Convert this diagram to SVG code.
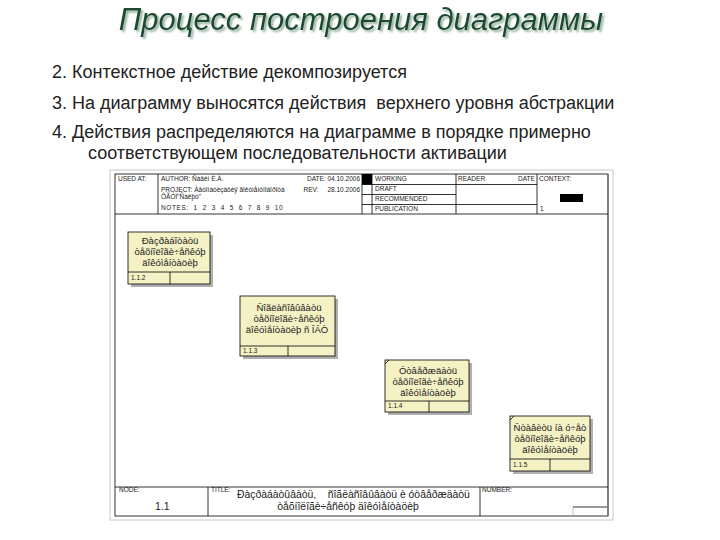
<svg xmlns="http://www.w3.org/2000/svg" width="720" height="540" viewBox="0 0 720 540">
<defs>
<filter id="tsh" x="-5%" y="-20%" width="110%" height="150%">
<feDropShadow dx="2" dy="2" stdDeviation="0.8" flood-color="#8fae98" flood-opacity="1"/>
</filter>
</defs>
<style>
.t{font-family:"Liberation Sans",Arial,sans-serif;fill:#222}
.b{font-family:"Liberation Sans",Arial,sans-serif;font-size:18px;fill:#222}
.h{font-family:"Liberation Sans",Arial,sans-serif;font-size:6.5px;fill:#222}
.n{font-family:"Liberation Sans",Arial,sans-serif;font-size:9.5px;fill:#222;text-anchor:middle}
.ln{stroke:#000;stroke-width:0.8;fill:none}
.box{fill:#f4f1c4;stroke:#000;stroke-width:0.8}
.sh{fill:#b0b0b0}
</style>
<rect width="720" height="540" fill="#fff"/>
<g id="heading">
<text x="361" y="30" text-anchor="middle" font-family="Liberation Sans,Arial,sans-serif" font-style="italic" font-size="31" fill="#1b4a30" filter="url(#tsh)">Процесс построения диаграммы</text>
<text class="b" x="52" y="78">2. Контекстное действие декомпозируется</text>
<text class="b" x="52" y="109" xml:space="preserve">3. На диаграмму выносятся действия  верхнего уровня абстракции</text>
<text class="b" x="52" y="138">4. Действия распределяются на диаграмме в порядке примерно</text>
<text class="b" x="88" y="159">соответствующем последовательности активации</text>
</g>
<g id="frame">
<rect x="110" y="170" width="503" height="350" fill="none" stroke="#c8c8c8" stroke-width="1"/>
<rect x="115" y="174" width="493" height="342" class="ln"/>
<line x1="608" y1="174" x2="608" y2="516" stroke="#777" stroke-width="1.5"/>
<line x1="115" y1="214" x2="608" y2="214" class="ln"/>
<line x1="158" y1="174" x2="158" y2="214" class="ln"/>
<line x1="362" y1="174" x2="362" y2="214" class="ln"/>
<line x1="372" y1="174" x2="372" y2="214" class="ln"/>
<line x1="456" y1="174" x2="456" y2="214" class="ln"/>
<line x1="537" y1="174" x2="537" y2="214" class="ln"/>
<line x1="362" y1="184.5" x2="537" y2="184.5" class="ln"/>
<line x1="362" y1="194.5" x2="456" y2="194.5" class="ln"/>
<line x1="362" y1="204.5" x2="537" y2="204.5" class="ln"/>
<rect x="362" y="174" width="10" height="10.5" fill="#000"/>
<rect x="560" y="194" width="23" height="8" fill="#000"/>
<text class="h" x="118" y="181">USED AT:</text>
<text class="h" x="161" y="181">AUTHOR:  Ñàâèí È.À.</text>
<text class="h" x="161" y="192">PROJECT:  Àâòîìàòèçàöèÿ äîêóìåíòîîáîðîòà</text>
<text class="h" x="161" y="199">ÔÃÓÏ"Ñàëþò"</text>
<text class="h" x="161" y="210" xml:space="preserve" letter-spacing="0.6">NOTES:  1  2  3  4  5  6  7  8  9  10</text>
<text class="h" x="360" y="181" font-size="5.5px" text-anchor="end">DATE: 04.10.2006</text>
<text class="h" x="360" y="192" font-size="5.5px" text-anchor="end" xml:space="preserve">REV:     28.10.2006</text>
<text class="h" x="375" y="181">WORKING</text>
<text class="h" x="375" y="191">DRAFT</text>
<text class="h" x="375" y="201">RECOMMENDED</text>
<text class="h" x="375" y="211">PUBLICATION</text>
<text class="h" x="458" y="181">READER</text>
<text class="h" x="518" y="181">DATE</text>
<text class="h" x="539" y="181">CONTEXT:</text>
<text class="h" x="540" y="211">1</text>
<line x1="115" y1="487" x2="608" y2="487" class="ln"/>
<line x1="208" y1="487" x2="208" y2="516" class="ln"/>
<line x1="480" y1="487" x2="480" y2="516" class="ln"/>
<line x1="573" y1="507" x2="607" y2="507" class="ln"/>
<line x1="573" y1="507" x2="573" y2="516" stroke="#999" stroke-width="0.6"/>
<text class="h" x="119" y="492" font-size="4.5px">NODE:</text>
<text class="t" x="155" y="510" font-size="10.5">1.1</text>
<text class="h" x="211" y="492" font-size="4.5px">TITLE:</text>
<text class="t" x="237" y="498" font-size="10.4" xml:space="preserve">Ðàçðàáàòûâàòü,    ñîãëàñîâûâàòü è óòâåðæäàòü</text>
<text class="t" x="348" y="510" font-size="10.4" text-anchor="middle">òåõíîëîãè÷åñêóþ äîêóìåíòàöèþ</text>
<text class="h" x="482" y="492" font-size="4.5px">NUMBER:</text>
</g>
<g id="node112">
<rect class="sh" x="131" y="235" width="82" height="52"/>
<rect class="box" x="128" y="232" width="82" height="52"/>
<line x1="128" y1="272" x2="210" y2="272" class="ln"/>
<line x1="170" y1="272" x2="170" y2="284" class="ln"/>
<text class="n" x="170" y="244">Ðàçðàáîòàòü</text>
<text class="n" x="170" y="255">òåõíîëîãè÷åñêóþ</text>
<text class="n" x="170" y="266">äîêóìåíòàöèþ</text>
<text class="h" x="131" y="280" font-size="5.5px">1.1.2</text>
</g>
<g id="node113">
<rect class="sh" x="243" y="299" width="95" height="60"/>
<rect class="box" x="240" y="296" width="95" height="60"/>
<line x1="240" y1="346" x2="335" y2="346" class="ln"/>
<line x1="288" y1="346" x2="288" y2="356" class="ln"/>
<text class="n" x="289" y="311">Ñîãëàñîâûâàòü</text>
<text class="n" x="289" y="322">òåõíîëîãè÷åñêóþ</text>
<text class="n" x="287" y="333">äîêóìåíòàöèþ ñ ÎÃÒ</text>
<text class="h" x="243" y="353" font-size="5.5px">1.1.3</text>
</g>
<g id="node114">
<rect class="sh" x="388" y="363" width="84" height="52"/>
<rect class="box" x="385" y="360" width="84" height="52"/>
<line x1="385" y1="401" x2="469" y2="401" class="ln"/>
<line x1="429" y1="401" x2="429" y2="412" class="ln"/>
<line x1="385" y1="364" x2="389" y2="360" class="ln"/>
<text class="n" x="428" y="374">Óòâåðæäàòü</text>
<text class="n" x="428" y="385">òåõíîëîãè÷åñêóþ</text>
<text class="n" x="428" y="396">äîêóìåíòàöèþ</text>
<text class="h" x="388" y="408" font-size="5.5px">1.1.4</text>
</g>
<g id="node115">
<rect class="sh" x="513" y="419" width="80" height="55"/>
<rect class="box" x="510" y="416" width="80" height="55"/>
<line x1="510" y1="459" x2="590" y2="459" class="ln"/>
<line x1="550" y1="459" x2="550" y2="471" class="ln"/>
<line x1="510" y1="420" x2="514" y2="416" class="ln"/>
<text class="n" x="550" y="431">Ñòàâèòü íà ó÷åò</text>
<text class="n" x="550" y="442">òåõíîëîãè÷åñêóþ</text>
<text class="n" x="550" y="453">äîêóìåíòàöèþ</text>
<text class="h" x="513" y="467" font-size="5.5px">1.1.5</text>
</g>
<g id="connectors"></g>
</svg>
